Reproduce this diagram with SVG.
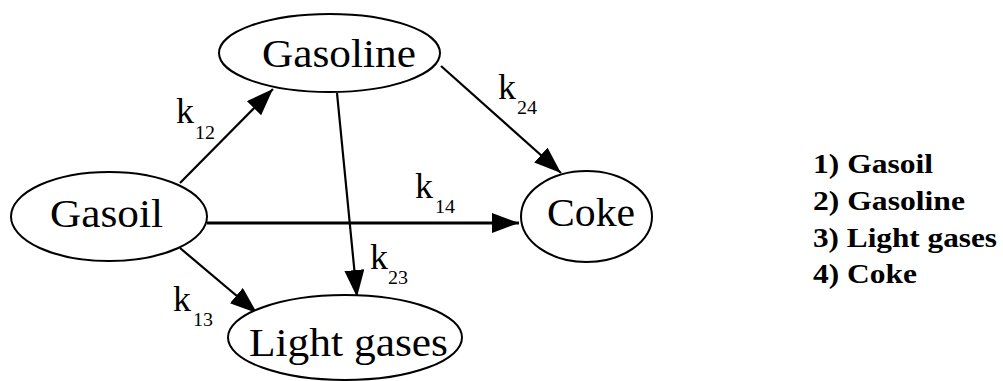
<svg xmlns="http://www.w3.org/2000/svg" width="1003" height="381" viewBox="0 0 1003 381">
<style>
.node{fill:#fff;stroke:#000;stroke-width:2}
.nt{font-family:"Liberation Serif","Times New Roman",serif;font-size:39px;fill:#000}
.k{font-family:"Liberation Serif","Times New Roman",serif;font-size:36px;fill:#000}
.s{font-family:"Liberation Serif","Times New Roman",serif;font-size:19px;fill:#000}
.lg{font-family:"Liberation Serif","Times New Roman",serif;font-size:28px;font-weight:bold;fill:#000}
.e{stroke:#000;stroke-width:2.2;fill:none;marker-end:url(#ah)}
</style>
<defs>
<marker id="ah" markerUnits="userSpaceOnUse" markerWidth="30" markerHeight="22" refX="27" refY="10" orient="auto" viewBox="0 0 30 22">
<path d="M0,0 L27,10 L0,20 z" fill="#000"/>
</marker>
</defs>
<rect width="1003" height="381" fill="#fff"/>
<g id="connectors">
<line class="e" x1="180" y1="183" x2="273" y2="89"/>
<line class="e" x1="337" y1="93" x2="357" y2="297"/>
<line class="e" x1="180" y1="248" x2="257" y2="313"/>
<line class="e" x1="441" y1="66" x2="561" y2="173"/>
<line class="e" x1="207" y1="223" x2="519" y2="223" style="stroke-width:3"/>
</g>
<g id="labels">
<text class="k" x="176" y="123">k</text><text class="s" x="195" y="139" textLength="20" lengthAdjust="spacingAndGlyphs">12</text>
<text class="k" x="173" y="311">k</text><text class="s" x="193" y="326" textLength="20" lengthAdjust="spacingAndGlyphs">13</text>
<text class="k" x="415" y="198">k</text><text class="s" x="435" y="213" textLength="20" lengthAdjust="spacingAndGlyphs">14</text>
<text class="k" x="370" y="269">k</text><text class="s" x="388" y="284" textLength="20" lengthAdjust="spacingAndGlyphs">23</text>
<text class="k" x="498" y="99">k</text><text class="s" x="517" y="114" textLength="20" lengthAdjust="spacingAndGlyphs">24</text>
</g>
<g id="gasoline">
<ellipse class="node" cx="329.5" cy="53" rx="110.5" ry="39"/>
<text class="nt" x="262" y="67" textLength="154" lengthAdjust="spacingAndGlyphs">Gasoline</text>
</g>
<g id="gasoil">
<ellipse class="node" cx="109" cy="216.5" rx="98" ry="44.5"/>
<text class="nt" x="50" y="227" textLength="113" lengthAdjust="spacingAndGlyphs">Gasoil</text>
</g>
<g id="lightgases">
<ellipse class="node" cx="345" cy="337.5" rx="117" ry="42.5"/>
<text class="nt" x="249" y="356" textLength="199" lengthAdjust="spacingAndGlyphs">Light gases</text>
</g>
<g id="coke">
<ellipse class="node" cx="586.5" cy="216.5" rx="65.5" ry="45.5"/>
<text class="nt" x="547" y="226" textLength="88" lengthAdjust="spacingAndGlyphs">Coke</text>
</g>
<g id="legend">
<text class="lg" x="813" y="173" textLength="120" lengthAdjust="spacingAndGlyphs">1) Gasoil</text>
<text class="lg" x="813" y="210" textLength="152" lengthAdjust="spacingAndGlyphs">2) Gasoline</text>
<text class="lg" x="813" y="247" textLength="184" lengthAdjust="spacingAndGlyphs">3) Light gases</text>
<text class="lg" x="813" y="283" textLength="104" lengthAdjust="spacingAndGlyphs">4) Coke</text>
</g>
</svg>
